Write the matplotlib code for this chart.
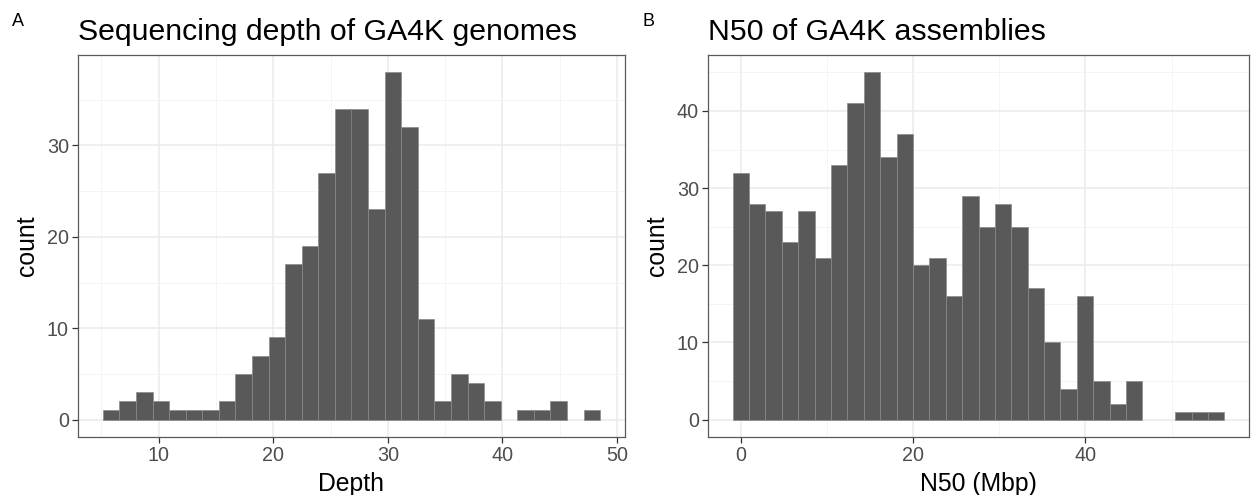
import numpy as np
import matplotlib.pyplot as plt
from matplotlib.ticker import MultipleLocator

plt.rcParams['font.family'] = ['Liberation Sans', 'DejaVu Sans']

# histogram counts (30 bins each)
depth_counts = [1, 2, 3, 2, 1, 1, 1, 2, 5, 7, 9, 17, 19, 27, 34,
                34, 23, 38, 32, 11, 2, 5, 4, 2, 0, 1, 1, 2, 0, 1]
depth_range = (5.13, 48.53)

n50_counts = [32, 28, 27, 23, 27, 21, 33, 41, 45, 34, 37, 20, 21, 16, 29,
              25, 28, 25, 17, 10, 4, 16, 5, 2, 5, 0, 0, 1, 1, 1]
n50_range = (-0.92, 56.13)

W, H = 1252, 495
fig = plt.figure(figsize=(W / 100, H / 100), dpi=100)


def panel(left, right, top, bottom):
    return fig.add_axes([left / W, (H - bottom) / H, (right - left) / W, (bottom - top) / H])


def histo(ax, counts, rng, xmaj, ymaj):
    counts = np.array(counts, dtype=float)
    edges = np.linspace(rng[0], rng[1], len(counts) + 1)
    keep = counts > 0
    ax.bar(edges[:-1][keep], counts[keep], width=np.diff(edges)[keep], align='edge',
           color='#595959', edgecolor='#8a8a8a', linewidth=0.5, zorder=3)
    span = rng[1] - rng[0]
    ax.set_xlim(rng[0] - 0.05 * span, rng[1] + 0.05 * span)
    ymax = counts.max()
    ax.set_ylim(-0.05 * ymax, ymax * 1.05)
    ax.xaxis.set_major_locator(MultipleLocator(xmaj))
    ax.xaxis.set_minor_locator(MultipleLocator(xmaj / 2))
    ax.yaxis.set_major_locator(MultipleLocator(ymaj))
    ax.yaxis.set_minor_locator(MultipleLocator(ymaj / 2))
    ax.grid(which='major', color='#ebebeb', linewidth=1.1, zorder=0)
    ax.grid(which='minor', color='#f2f2f2', linewidth=0.6, zorder=0)
    ax.set_axisbelow(True)
    for s in ax.spines.values():
        s.set_color('#5a5a5a')
        s.set_linewidth(0.9)
    ax.tick_params(which='major', length=4, width=0.9, color='#333333',
                   labelsize=14.2, labelcolor='#4d4d4d', pad=2.5)
    ax.tick_params(which='minor', length=0)
    ax.set_ylabel('count', fontsize=17.8, labelpad=6)


axA = panel(78, 625, 55, 437)
histo(axA, depth_counts, depth_range, 10, 10)
axA.set_xlabel('Depth', fontsize=17.8, labelpad=5)

axB = panel(708, 1249, 55, 437)
histo(axB, n50_counts, n50_range, 20, 10)
axB.set_xlabel('N50 (Mbp)', fontsize=17.8, labelpad=5)

fig.text(78 / W, 1 - 40 / H, 'Sequencing depth of GA4K genomes', fontsize=21.8, ha='left', va='baseline')
fig.text(708 / W, 1 - 40 / H, 'N50 of GA4K assemblies', fontsize=21.8, ha='left', va='baseline')
fig.text(12 / W, 1 - 26 / H, 'A', fontsize=13, ha='left', va='baseline')
fig.text(643 / W, 1 - 26 / H, 'B', fontsize=13, ha='left', va='baseline')

fig.savefig('out.png', dpi=100)
